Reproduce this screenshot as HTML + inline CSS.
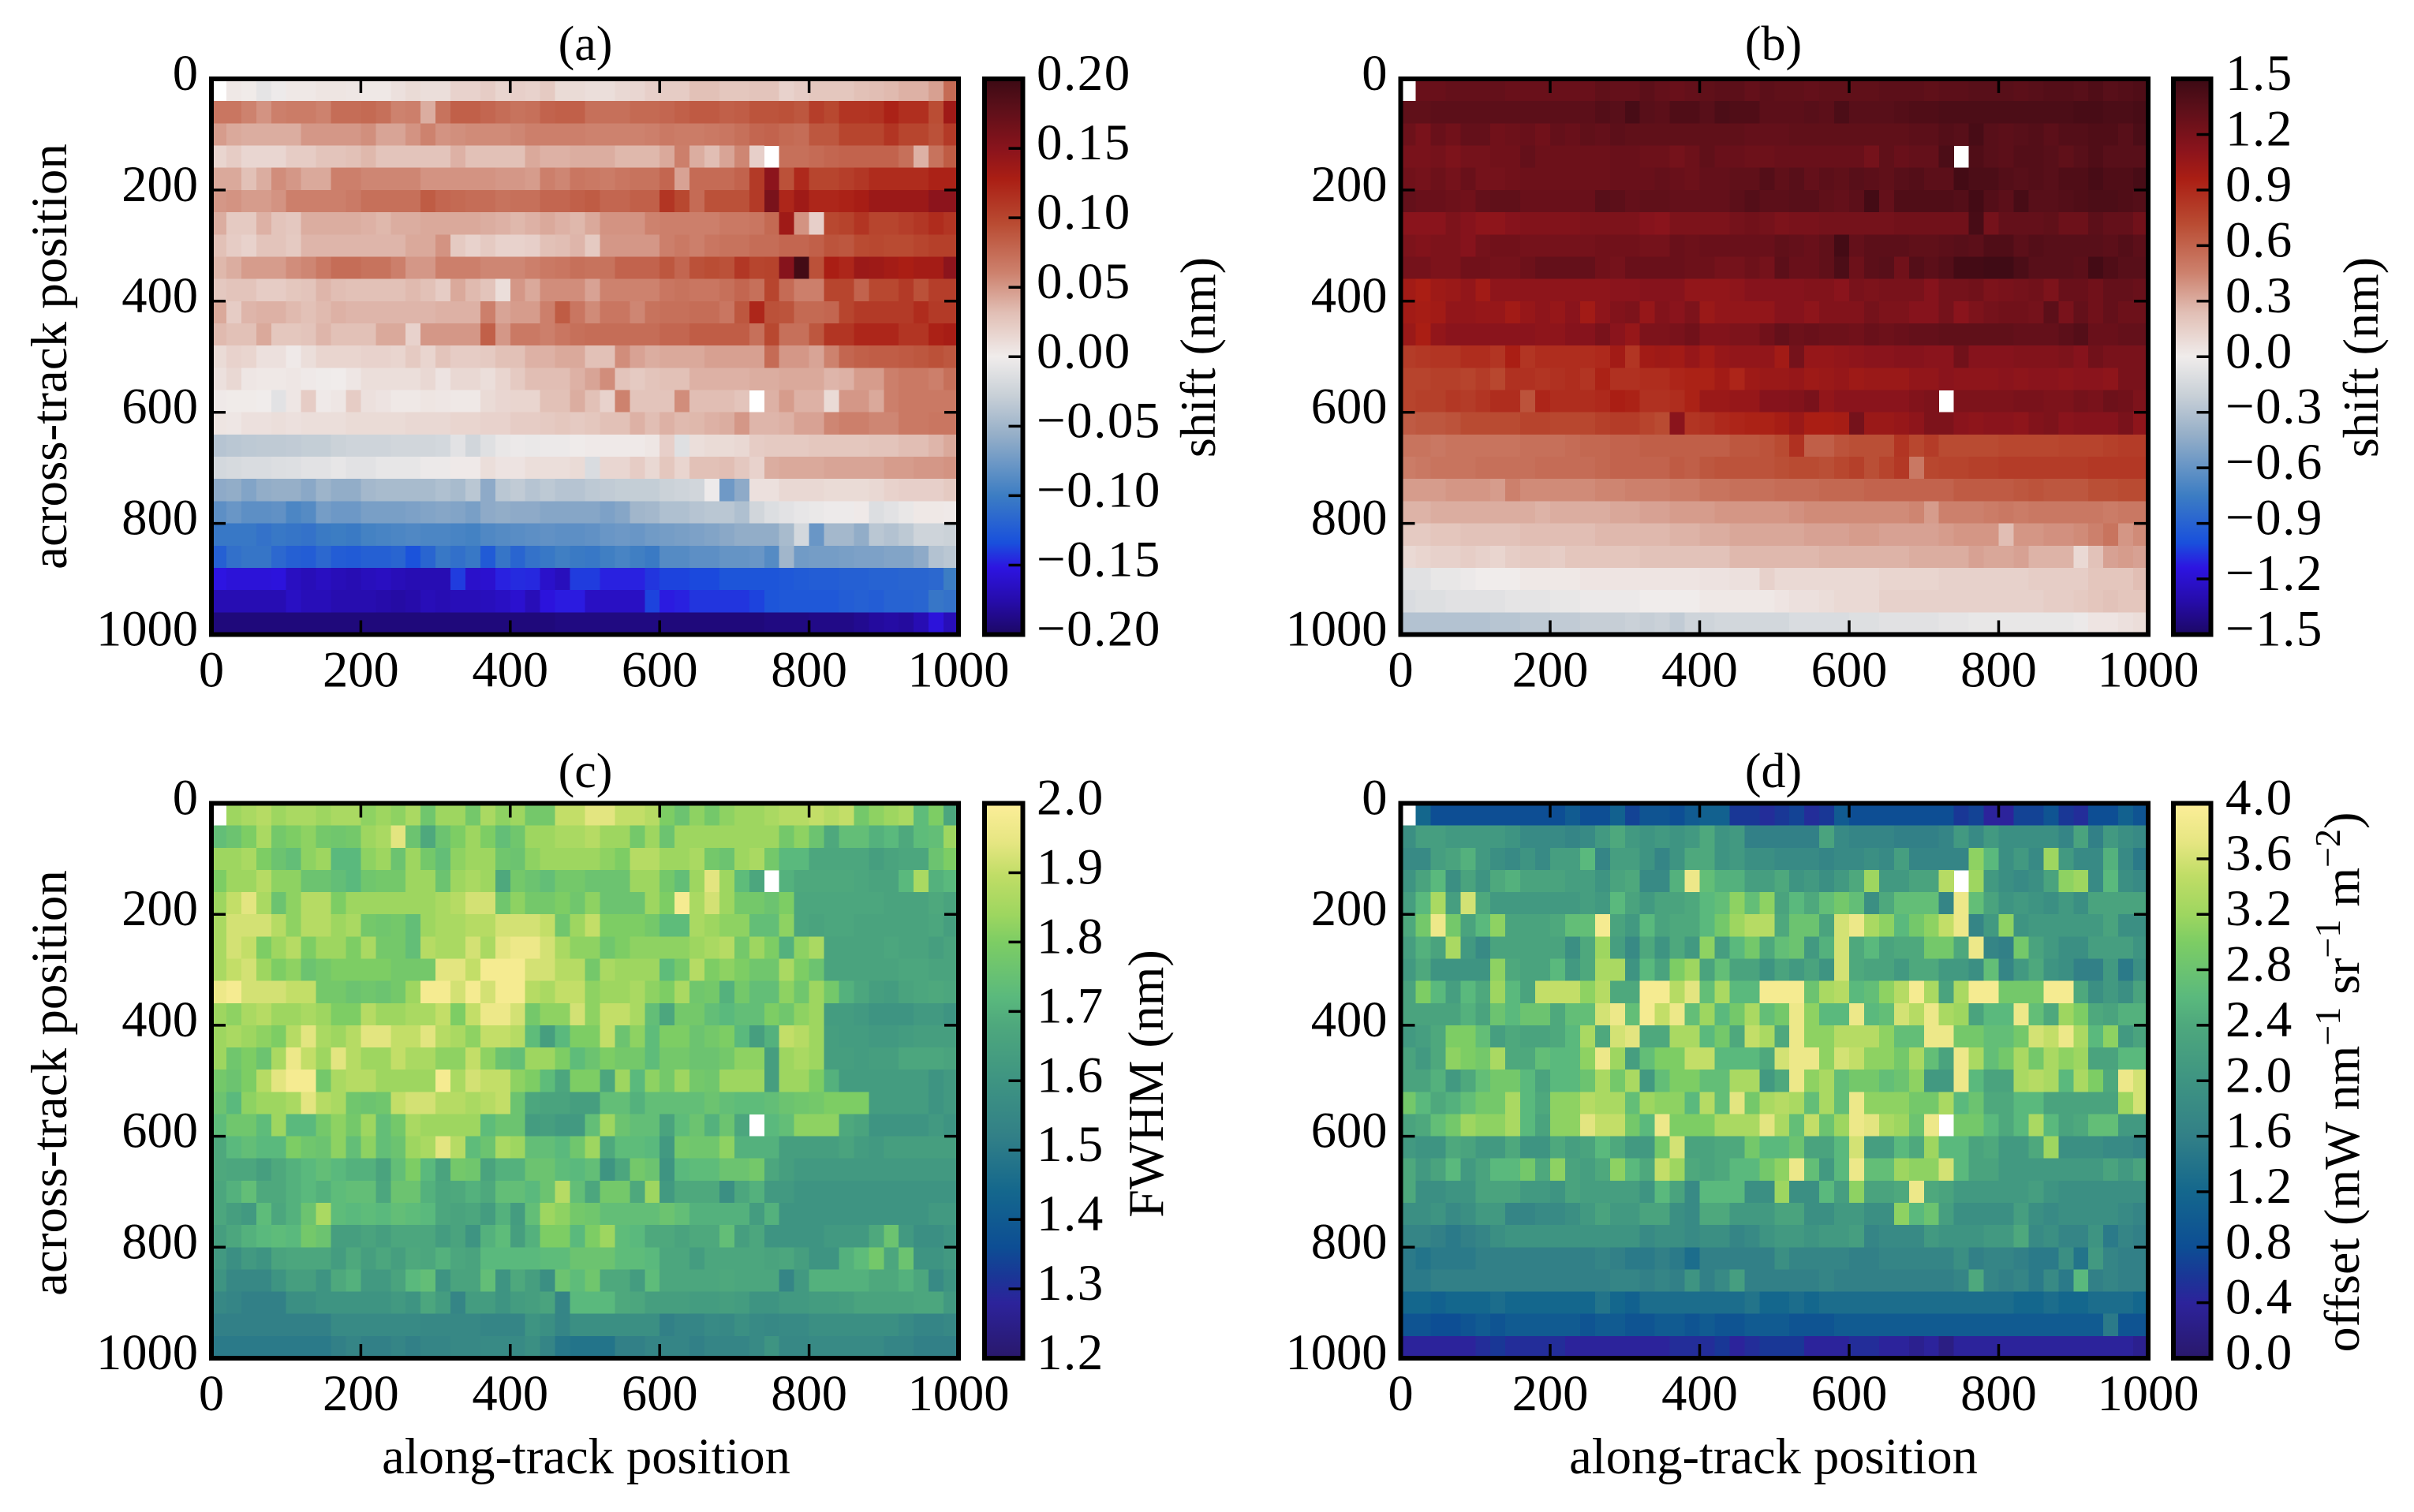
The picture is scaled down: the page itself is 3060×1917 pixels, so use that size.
<!DOCTYPE html>
<html>
<head>
<meta charset="utf-8">
<title>Shift, FWHM and offset maps</title>
<style>
html,body{margin:0;padding:0;background:#fff}
svg{display:block}
text{font-family:"Liberation Serif",serif;fill:#000}
</style>
</head>
<body>
<svg id="figure" xmlns="http://www.w3.org/2000/svg" width="3060" height="1917" viewBox="0 0 3060 1917">
<rect width="3060" height="1917" fill="#fff"/>
<text x="742" y="76" font-size="62" text-anchor="middle">(a)</text>
<text x="2248" y="76" font-size="62" text-anchor="middle">(b)</text>
<text x="742" y="998" font-size="62" text-anchor="middle">(c)</text>
<text x="2248" y="998" font-size="62" text-anchor="middle">(d)</text>
<text transform="translate(84,452) rotate(-90)" font-size="65" text-anchor="middle">across-track position</text>
<text transform="translate(84,1373) rotate(-90)" font-size="65" text-anchor="middle">across-track position</text>
<text x="743" y="1868" font-size="64.5" text-anchor="middle">along-track position</text>
<text x="2248" y="1868" font-size="64.5" text-anchor="middle">along-track position</text>
<text transform="translate(1540,453) rotate(-90)" font-size="64" text-anchor="middle">shift (nm)</text>
<text transform="translate(3014,453) rotate(-90)" font-size="64" text-anchor="middle">shift (nm)</text>
<text transform="translate(1474,1374) rotate(-90)" font-size="64" text-anchor="middle">FWHM (nm)</text>
<text transform="translate(2990,1372) rotate(-90)" font-size="64" text-anchor="middle">offset (mW nm<tspan dy="-24" font-size="46">−1</tspan><tspan dy="24"> sr</tspan><tspan dy="-24" font-size="46">−1</tspan><tspan dy="24"> m</tspan><tspan dy="-24" font-size="46">−2</tspan><tspan dy="24">)</tspan></text>
</svg>
<script>
const xTicks = [0, 200, 400, 600, 800, 1000];
const yTicks = [0, 200, 400, 600, 800, 1000];
const binWidth = 20;
const binHeight = 40;
const ticksA = [-0.20, -0.15, -0.10, -0.05, 0.00, 0.05, 0.10, 0.15, 0.20];
const ticksB = [-1.5, -1.2, -0.9, -0.6, -0.3, 0.0, 0.3, 0.6, 0.9, 1.2, 1.5];
const ticksC = [1.2, 1.3, 1.4, 1.5, 1.6, 1.7, 1.8, 1.9, 2.0];
const ticksD = [0.0, 0.4, 0.8, 1.2, 1.6, 2.0, 2.4, 2.8, 3.2, 3.6, 4.0];

// panel (a) shift, thousandths of a nm
const shiftA = [
[null,3,1,-8,-2,3,3,5,5,4, 3,3,8,12,10,10,18,18,22,16, 20,18,24,12,12,10,10,14,15,20, 22,22,30,30,26,26,28,28,18,22, 26,26,26,30,32,34,38,38,46,75],
[68,68,60,52,62,64,64,60,74,74, 76,72,60,62,40,70,82,82,78,74, 70,72,80,82,82,72,72,72,76,76, 78,82,86,86,82,84,90,90,92,88, 105,98,112,112,114,125,116,116,95,135],
[48,42,40,40,40,40,50,50,50,50, 54,44,44,52,60,52,54,56,56,56, 58,62,62,62,62,60,60,60,60,62, 66,64,64,66,68,72,78,80,76,74, 88,88,100,100,100,112,100,100,92,108],
[16,22,15,15,15,22,22,28,28,30, 35,28,28,28,28,28,38,30,30,30, 30,42,38,38,40,40,40,35,35,35, 42,62,40,32,44,58,20,null,72,72, 75,78,80,80,80,80,72,38,70,85],
[42,42,30,40,55,50,42,42,62,62, 58,58,58,58,52,52,52,52,52,50, 50,48,62,58,68,66,64,68,70,70, 78,45,75,75,75,80,108,148,92,120, 100,100,105,110,118,118,118,118,125,125],
[50,52,48,48,52,62,62,62,62,65, 72,72,72,72,85,78,76,74,74,70, 72,72,78,78,82,85,78,78,82,82, 112,98,75,92,92,92,108,160,122,135, 122,122,125,130,138,138,138,138,148,148],
[40,24,24,38,28,25,40,40,40,40, 38,35,40,40,42,42,42,42,40,38, 35,38,42,38,35,42,52,52,52,60, 62,62,62,62,66,66,68,76,135,52, 20,98,102,112,100,100,105,110,118,112],
[30,22,18,28,28,24,36,36,36,36, 36,36,36,42,42,52,24,18,24,18, 18,20,30,32,36,24,50,50,50,50, 62,66,62,68,70,70,74,74,78,78, 82,90,88,96,98,96,96,100,104,104],
[35,40,48,48,48,55,58,66,74,74, 70,70,62,50,50,62,62,62,58,58, 58,62,66,68,72,70,70,80,80,80, 88,78,92,95,92,110,100,102,152,195, 92,128,122,138,136,132,128,132,132,148],
[25,28,28,22,22,26,28,36,32,30, 30,30,30,34,30,22,42,34,28,10, 50,42,55,55,55,45,60,60,60,60, 68,70,68,68,72,78,72,100,75,62, 62,100,100,80,98,98,108,92,105,105],
[42,22,36,38,38,34,30,34,38,36, 36,36,36,36,36,38,38,38,62,44, 48,48,62,85,68,56,68,68,58,70, 72,72,74,74,68,88,122,92,90,76, 76,78,100,108,108,108,108,118,108,108],
[34,30,30,42,26,26,28,36,30,30, 30,42,42,18,50,50,50,50,82,50, 66,66,62,68,72,74,74,74,74,74, 78,78,84,84,84,84,72,98,72,72, 88,112,112,122,122,122,112,112,126,130],
[12,18,16,8,8,2,10,16,16,16, 18,18,16,24,16,28,22,22,24,30, 30,38,38,42,42,30,30,55,45,40, 42,42,42,46,46,46,46,75,50,50, 44,60,78,82,84,84,86,88,92,88],
[8,14,4,3,3,4,2,-1,0,4, 10,10,10,10,14,6,14,14,10,16, 24,32,32,32,38,44,55,28,24,28, 30,30,38,38,38,38,40,40,42,42, 42,36,38,48,48,62,66,66,62,72],
[2,1,1,0,-10,4,22,2,4,22, 8,6,3,3,5,4,3,3,12,15, 16,16,30,30,40,30,18,60,28,28, 28,55,32,32,32,28,null,38,48,38, 38,12,50,50,42,62,66,66,66,66],
[5,4,8,8,10,8,10,10,10,12, 12,12,12,14,14,14,16,16,18,18, 22,22,24,26,24,26,30,30,38,32, 38,34,35,38,40,50,36,36,38,45, 45,58,62,62,58,58,66,66,68,68],
[-38,-36,-34,-33,-33,-32,-30,-30,-26,-24, -24,-24,-22,-22,-22,-20,-10,-22,-12,-5, -3,-4,-3,-3,-1,2,2,2,2,4, 20,-12,10,12,12,14,22,24,24,24, 26,26,26,26,28,28,32,32,36,42],
[-20,-18,-16,-16,-14,-13,-10,-10,-6,-10, -10,-6,-6,-6,-3,-3,2,2,10,6, 6,10,10,10,12,-16,15,15,22,14, 26,16,30,30,32,25,18,40,42,42, 42,44,44,44,44,48,48,50,50,52],
[-60,-58,-66,-58,-56,-56,-62,-52,-58,-58, -48,-46,-46,-46,-46,-42,-46,-36,-60,-36, -32,-38,-34,-38,-38,-34,-32,-30,-30,-30, -26,-24,-22,-2,-75,-60,8,8,14,14, 14,12,12,12,14,18,20,20,20,24],
[-84,-78,-84,-84,-82,-92,-88,-72,-76,-76, -70,-70,-70,-68,-66,-64,-66,-70,-60,-58, -60,-60,-64,-64,-64,-64,-68,-64,-50,-48, -42,-42,-38,-36,-36,-42,-22,-14,-10,-6, -4,-2,-2,2,-14,-10,-5,3,3,2],
[-104,-104,-104,-108,-104,-106,-108,-102,-100,-102, -96,-94,-92,-90,-92,-92,-94,-96,-90,-88, -86,-84,-82,-84,-84,-82,-78,-76,-78,-74, -72,-70,-68,-66,-62,-58,-58,-58,-46,-20, -78,-48,-48,-58,-36,-40,-34,-24,-24,-26],
[-122,-110,-106,-106,-116,-122,-124,-116,-124,-126, -122,-122,-118,-132,-118,-104,-110,-104,-126,-106, -118,-108,-104,-98,-102,-104,-98,-94,-98,-102, -88,-88,-84,-84,-80,-80,-78,-88,-50,-74, -72,-72,-70,-68,-68,-66,-66,-60,-40,-36],
[-152,-156,-156,-156,-154,-166,-170,-166,-170,-172, -168,-166,-170,-172,-172,-172,-140,-162,-160,-148, -145,-146,-162,-168,-140,-140,-148,-148,-148,-142, -138,-138,-136,-136,-130,-130,-130,-130,-128,-126, -124,-124,-122,-122,-120,-120,-118,-118,-116,-100],
[-172,-172,-172,-172,-172,-165,-170,-170,-174,-174, -174,-176,-178,-176,-170,-172,-170,-170,-168,-165, -160,-170,-154,-150,-150,-165,-165,-165,-165,-138, -150,-148,-142,-142,-142,-142,-138,-130,-128,-128, -128,-128,-124,-122,-124,-120,-120,-118,-105,-108],
[-192,-192,-192,-192,-192,-192,-192,-192,-192,-192, -192,-192,-192,-192,-192,-192,-192,-192,-192,-192, -192,-192,-192,-190,-190,-190,-190,-190,-190,-190, -192,-192,-192,-192,-192,-192,-192,-190,-190,-190, -188,-188,-188,-185,-180,-178,-180,-172,-155,-170]
];

// panel (b) shift, hundredths of a nm
const shiftB = [
[null,128,128,130,130,130,130,128,128,128, 128,128,128,132,130,130,134,130,128,130, 132,134,134,130,134,132,132,130,132,132, 132,132,134,134,134,132,134,134,136,136, 136,134,136,138,138,136,140,136,138,140],
[132,132,134,134,134,134,134,134,134,134, 134,134,134,138,136,144,136,134,140,140, 136,142,140,140,134,134,134,136,134,142, 136,136,136,138,140,140,142,142,142,142, 142,142,142,142,142,144,144,142,142,144],
[126,120,128,124,130,130,124,126,128,124, 130,128,132,130,134,132,132,132,132,132, 132,132,132,130,130,130,132,132,132,132, 132,132,132,132,134,134,138,136,144,136, 134,136,138,134,138,138,140,140,136,142],
[120,120,122,118,122,122,124,124,130,126, 126,126,126,126,128,128,126,126,122,126, 132,128,128,126,126,128,128,128,128,128, 128,122,132,128,130,130,142,null,140,136, 134,138,138,136,132,136,140,136,136,136],
[124,122,126,122,128,122,122,124,126,126, 126,126,126,126,128,128,128,130,128,126, 130,130,132,132,138,132,136,130,134,132, 136,134,132,136,138,134,134,146,142,142, 138,136,138,136,140,140,144,140,140,144],
[130,128,128,126,124,130,132,132,128,128, 128,128,128,136,134,130,132,132,130,130, 130,130,134,138,134,134,136,136,132,130, 134,146,130,140,140,140,140,138,146,138, 134,144,136,136,138,140,142,142,140,138],
[112,112,112,118,114,110,110,114,116,116, 116,116,118,118,118,118,114,112,118,118, 118,118,122,124,122,118,120,120,122,122, 122,122,122,124,124,124,124,124,144,122, 130,130,130,132,126,126,134,130,130,124],
[118,116,118,118,114,122,124,124,122,122, 122,122,122,124,124,124,122,122,128,126, 128,128,128,128,128,132,130,128,132,146, 130,134,134,134,132,132,134,136,134,140, 140,134,138,136,136,136,136,134,138,134],
[122,122,118,118,124,124,122,122,126,130, 130,130,130,124,122,128,128,128,128,126, 126,122,122,126,122,134,128,128,132,142, 126,134,136,124,138,134,138,146,146,148, 148,142,136,136,136,134,146,140,136,136],
[100,96,102,104,108,100,110,110,110,110, 110,110,110,110,112,112,114,114,114,108, 108,108,110,114,114,114,114,116,116,112, 120,118,120,120,120,114,122,122,124,118, 120,122,124,118,128,128,124,130,130,128],
[100,98,100,108,108,106,106,100,106,110, 106,112,100,110,116,118,106,116,112,118, 104,108,108,108,108,114,114,110,116,116, 116,122,118,118,114,114,122,112,118,122, 124,124,122,134,120,130,124,130,126,126],
[104,96,108,112,112,112,112,112,112,110, 110,114,114,120,112,106,118,118,120,124, 116,116,118,118,124,130,126,128,126,126, 124,128,126,128,130,130,132,132,132,132, 132,130,130,130,134,138,128,128,130,130],
[80,82,84,84,88,88,84,96,84,88, 88,88,88,90,100,84,100,102,100,106, 100,106,108,108,108,100,122,106,106,108, 110,112,112,114,114,112,112,124,114,114, 114,116,116,116,118,114,124,120,120,120],
[76,76,78,78,76,80,74,86,86,84, 86,88,84,94,86,86,88,88,92,94, 94,100,92,102,104,104,106,102,104,106, 102,104,104,104,108,108,112,110,110,110, 112,110,112,112,110,112,112,110,120,120],
[76,78,78,82,80,84,88,88,68,92, 88,88,88,90,96,94,86,86,88,94, 104,104,106,106,114,114,116,120,108,112, 112,112,112,112,116,118,null,118,118,118, 118,120,120,118,118,122,120,126,124,118],
[64,66,66,68,72,72,72,72,76,76, 74,74,74,78,80,80,76,72,112,84, 86,90,92,94,94,98,104,96,96,98, 122,104,104,106,110,118,118,112,110,112, 112,110,116,118,112,114,114,114,120,110],
[52,52,50,52,52,52,52,52,54,54, 54,56,58,58,60,60,62,62,62,62, 62,62,66,66,68,72,86,62,62,68, 70,70,70,84,74,80,72,72,72,72, 74,74,74,74,76,76,76,78,80,80],
[48,50,52,52,52,54,54,54,54,56, 56,56,56,58,60,60,60,60,64,62, 66,68,68,68,68,70,72,72,70,74, 78,70,76,82,50,74,76,76,78,78, 80,80,80,80,80,80,82,82,82,82],
[36,36,36,38,38,38,36,46,42,42, 42,42,42,44,44,46,46,46,48,48, 52,52,54,54,54,56,56,56,58,58, 58,60,60,60,60,60,60,64,64,64, 64,66,68,66,66,66,70,70,72,72],
[28,28,30,30,30,30,30,30,30,28, 30,30,30,30,32,32,34,34,36,36, 36,38,38,38,38,38,40,42,42,42, 42,42,42,42,44,36,46,46,46,48, 50,48,50,50,50,50,50,48,50,50],
[18,18,20,20,22,22,22,22,24,24, 24,24,24,26,26,26,26,26,28,28, 30,30,32,32,32,32,32,34,34,34, 36,36,34,34,34,34,36,38,38,38, 24,38,38,40,40,42,46,52,38,42],
[10,12,14,14,16,14,12,16,18,18, 16,20,20,20,20,20,22,22,22,22, 22,22,26,26,26,26,26,26,28,28, 28,28,28,28,30,30,30,30,34,32, 32,34,28,28,28,10,22,34,36,34],
[-8,-8,-4,-4,-2,0,0,0,2,2, 2,2,4,4,4,4,4,4,4,4, 5,5,6,6,14,10,10,10,10,10, 10,10,12,12,12,12,14,14,14,14, 14,14,16,16,16,16,20,20,20,24],
[-12,-10,-10,-8,-8,-8,-8,-6,-6,-6, -4,-4,-2,-2,-2,-2,0,0,0,0, 2,2,2,2,2,4,6,6,8,10, 10,10,14,14,14,14,14,14,14,14, 14,14,14,16,16,18,20,22,20,20],
[-30,-30,-30,-30,-30,-30,-28,-28,-26,-26, -24,-24,-22,-22,-22,-20,-22,-20,-24,-18, -18,-16,-16,-16,-16,-16,-12,-12,-12,-12, -10,-10,-8,-8,-8,-8,-6,-6,-4,-4, -4,-4,-4,-4,-4,-2,4,4,6,8]
];

// panel (c) FWHM, hundredths of a nm
const fwhmC = [
[null,184,186,188,184,186,186,184,186,186, 182,184,182,186,177,184,184,178,186,182, 184,178,178,190,190,194,194,190,190,188, 180,176,182,178,182,184,184,186,188,188, 190,188,190,178,182,184,186,173,180,167],
[174,176,180,186,178,180,182,178,177,178, 184,186,194,176,168,176,180,184,180,174, 177,184,184,186,186,188,184,184,178,184, 176,184,184,184,184,184,184,184,178,182, 176,168,174,174,170,172,168,173,174,184],
[184,184,186,180,176,174,182,184,172,172, 182,184,176,184,178,174,182,184,184,177, 176,182,184,184,184,184,182,180,188,188, 184,184,186,178,176,184,186,178,172,172, 167,167,167,167,164,166,167,167,176,180],
[180,184,184,188,182,182,176,176,174,172, 177,178,178,184,184,176,184,186,184,168, 178,176,174,178,178,176,176,176,184,184, 178,174,184,194,184,173,167,null,170,168, 168,168,168,167,166,166,172,186,170,172],
[184,190,194,186,176,182,188,188,180,184, 184,184,184,184,184,186,188,192,192,177, 182,178,178,180,177,182,176,176,176,184, 180,198,186,192,184,178,178,176,180,167, 167,167,167,167,167,166,166,166,168,166],
[186,192,192,192,188,182,188,188,184,186, 178,177,178,174,184,186,186,188,188,192, 192,192,190,177,184,190,180,180,180,178, 173,173,186,184,182,182,174,174,182,167, 166,167,167,166,166,166,166,166,167,164],
[186,192,190,180,184,188,180,184,184,180, 186,178,178,174,188,186,186,192,186,194, 196,196,192,186,182,182,177,180,182,182, 182,182,184,186,188,178,184,180,170,182, 186,166,166,166,166,167,166,166,164,166],
[186,190,192,184,180,182,176,178,180,180, 180,180,178,178,178,194,194,190,198,198, 198,192,192,188,188,178,186,184,184,184, 173,178,188,180,182,180,177,177,186,180, 176,166,166,166,166,166,167,167,166,166],
[196,198,192,192,192,190,190,178,178,176, 177,176,178,184,198,198,192,198,192,198, 198,188,186,190,190,182,184,184,186,182, 180,186,177,178,170,178,174,174,182,177, 184,178,170,167,164,163,166,167,168,167],
[184,182,186,188,184,184,186,184,180,180, 188,184,184,186,186,190,180,190,196,196, 192,178,182,182,192,182,190,190,186,174, 167,178,178,174,172,174,174,180,177,182, 184,163,163,162,160,160,160,162,162,160],
[184,186,184,182,180,188,194,186,184,188, 194,194,190,190,194,188,186,182,190,190, 188,173,164,172,180,180,190,176,182,173, 180,180,176,178,180,172,164,170,190,188, 184,164,163,163,162,162,163,164,164,164],
[184,177,180,176,186,196,190,184,194,188, 184,184,190,186,186,182,182,190,182,176, 174,184,184,180,173,176,180,178,178,173, 178,178,176,176,178,182,182,164,184,186, 184,164,164,163,164,164,167,167,167,166],
[178,176,180,188,194,198,198,178,186,188, 188,184,184,184,184,198,186,192,190,190, 182,180,173,167,180,180,167,184,172,182, 178,184,178,177,184,184,184,164,184,184, 180,170,163,163,163,163,163,163,160,162],
[176,172,182,184,184,186,194,188,186,177, 176,177,190,192,192,188,188,186,188,190, 176,167,166,166,164,164,174,174,170,174, 174,174,174,176,174,173,173,174,176,177, 178,180,180,180,163,163,163,163,160,162],
[173,177,177,173,184,172,172,178,182,178, 184,174,178,186,184,184,184,184,173,176, 176,163,164,162,162,174,184,176,174,174, 166,173,176,170,176,167,null,172,174,182, 182,182,168,166,160,160,160,160,162,160],
[168,172,174,172,172,180,177,176,182,174, 182,174,176,184,186,194,188,173,176,186, 184,174,174,172,177,184,168,173,173,172, 162,178,177,177,182,170,170,170,164,164, 164,164,166,163,162,164,164,164,164,164],
[168,167,167,164,168,170,172,174,172,170, 170,166,174,180,172,166,178,177,166,170, 170,176,176,173,172,174,160,167,178,176, 160,172,173,173,176,176,178,167,164,162, 162,162,162,162,162,162,162,162,162,162],
[167,170,174,168,168,170,172,170,173,174, 174,167,176,176,170,167,168,170,168,174, 174,172,176,188,174,167,178,178,168,184, 162,168,168,168,158,167,170,162,162,160, 160,160,160,160,160,160,160,160,160,160],
[167,164,162,173,167,170,176,186,173,172, 173,172,174,173,172,167,166,167,163,170, 163,174,184,182,178,177,174,174,174,174, 176,174,170,170,170,170,163,170,160,160, 160,160,160,160,160,160,160,160,162,162],
[164,167,170,172,173,172,178,176,164,164, 166,164,167,167,167,163,166,160,170,173, 164,170,180,180,172,180,184,173,172,168, 168,166,168,168,174,164,167,160,160,160, 160,162,162,162,168,176,162,158,158,160],
[162,158,162,160,166,167,167,167,163,168, 164,167,164,168,167,170,167,166,172,172, 172,172,173,173,176,176,176,173,173,172, 167,167,163,167,167,167,167,166,167,164, 160,160,170,173,178,167,176,160,160,162],
[160,155,155,155,160,164,164,160,168,170, 162,162,166,172,174,160,166,166,174,160, 168,164,158,176,173,177,168,168,163,173, 167,167,167,167,168,167,167,167,154,162, 170,170,170,170,168,168,170,167,156,160],
[155,154,152,152,152,158,158,160,160,160, 160,160,162,160,167,163,154,163,163,160, 163,164,166,154,172,172,172,168,167,164, 164,164,163,163,164,163,160,160,162,162, 163,163,164,166,166,166,166,167,167,162],
[152,152,152,152,152,152,152,152,156,156, 156,156,156,156,155,155,155,155,154,154, 154,160,158,154,158,158,158,158,158,158, 152,154,154,156,155,158,156,155,156,156, 158,158,158,158,158,158,156,154,154,155],
[150,150,150,150,150,150,150,150,152,154, 152,152,154,152,154,154,155,155,156,156, 156,158,154,149,148,148,148,152,152,154, 154,154,152,154,154,154,156,160,155,155, 156,156,156,156,156,154,154,152,152,152]
];

// panel (d) offset, tenths of a mW nm-1 sr-1 m-2
const offsetD = [
[null,12,8,8,8,8,8,8,8,8, 8,10,8,8,11,7,9,9,8,10, 11,11,6,6,5,6,7,5,6,10, 8,8,8,8,8,8,8,6,7,4, 4,7,7,9,6,5,8,8,11,9],
[19,22,22,21,21,21,21,20,18,18, 18,17,18,21,24,21,20,21,20,21, 24,20,21,16,16,16,16,16,23,18, 17,17,17,16,16,16,17,21,18,21, 19,19,19,19,17,23,16,21,19,18],
[18,18,22,23,25,21,19,18,20,18, 22,22,26,17,22,22,20,17,20,24, 24,20,21,19,19,18,18,18,17,18, 18,19,18,22,17,17,17,17,31,26, 19,21,18,32,21,18,18,25,18,15],
[20,23,26,19,23,20,24,25,23,23, 23,22,22,20,23,24,18,18,25,38, 27,25,25,22,22,24,20,21,19,21, 24,32,21,21,23,23,34,null,32,21, 19,18,19,23,31,32,18,26,19,18],
[22,26,33,22,36,24,21,21,21,21, 21,21,22,21,26,23,21,23,23,24, 26,27,31,27,31,23,26,24,27,29, 27,19,24,27,27,27,17,38,27,23, 20,21,20,19,21,19,23,23,23,23],
[24,29,38,29,23,26,31,23,23,23, 24,27,27,39,23,21,26,23,24,24, 26,29,32,34,34,24,28,28,23,36, 38,33,31,26,29,31,35,38,17,21, 31,20,21,21,21,21,21,23,19,19],
[22,25,23,33,21,18,23,23,23,23, 23,19,24,32,22,18,24,20,24,21, 31,22,26,29,24,27,28,21,25,36, 24,26,23,24,24,29,29,24,38,17, 16,29,23,21,19,19,22,22,22,20],
[21,24,20,20,20,20,31,24,23,23, 26,21,24,33,33,20,26,23,30,32, 23,27,23,23,20,23,21,23,20,36, 24,23,23,21,24,24,21,21,19,27, 17,21,24,20,19,16,16,21,15,19],
[23,30,26,22,26,24,32,26,23,35, 35,35,31,34,24,24,39,39,34,37, 27,33,26,26,39,39,39,28,33,34, 26,27,31,34,39,33,23,33,39,39, 29,29,29,39,39,24,19,21,19,23],
[23,23,23,23,25,23,28,26,28,28, 24,27,27,36,38,27,39,35,38,27, 32,26,29,33,27,29,38,31,26,26, 38,26,27,36,34,38,33,32,23,26, 26,38,27,24,32,30,24,23,25,25],
[21,22,24,30,30,27,22,24,23,23, 24,26,33,24,36,37,24,24,33,33, 26,29,24,35,33,24,38,31,31,34, 34,34,31,27,27,38,38,29,29,27, 27,29,36,35,38,33,26,31,21,23],
[23,21,24,31,30,29,33,24,24,27, 26,26,31,38,32,22,27,30,30,35, 35,26,26,26,24,36,38,38,31,36, 35,31,31,29,33,27,23,38,33,27, 29,33,29,33,31,32,23,23,26,26],
[23,23,25,21,24,27,29,29,26,23, 26,26,28,33,29,33,21,27,30,30, 27,27,33,33,21,24,38,31,33,27, 29,29,27,28,31,21,21,38,26,23, 23,33,34,33,26,33,30,24,38,36],
[29,26,24,25,27,29,29,33,26,24, 31,31,34,33,33,27,32,31,31,26, 34,27,37,29,33,34,33,27,33,27, 38,31,31,31,29,29,33,26,28,24, 24,26,26,23,23,23,23,23,32,36],
[23,24,27,29,32,31,31,33,26,23, 31,31,37,35,35,29,26,38,30,30, 30,33,33,33,37,33,27,35,28,32, 38,37,33,32,28,38,null,29,29,26, 24,26,33,26,23,24,27,27,21,21],
[21,20,20,24,23,21,21,24,20,20, 24,22,23,26,24,21,21,29,36,23, 23,24,24,29,26,26,28,23,23,26, 36,22,22,26,24,32,26,26,23,24, 21,21,24,32,19,19,19,18,18,17],
[24,21,23,26,21,23,26,26,29,24, 31,23,22,24,31,26,24,35,32,24, 23,24,26,26,29,31,38,27,21,26, 38,27,27,32,31,31,36,26,23,23, 21,21,21,21,21,21,21,23,21,23],
[24,19,19,20,20,23,23,23,21,21, 20,23,22,22,22,22,20,26,23,18, 26,26,26,19,19,32,19,19,26,22, 31,23,23,24,38,24,23,21,21,21, 21,21,22,20,19,19,19,19,19,19],
[19,19,20,18,19,21,21,17,17,18, 18,19,21,23,21,21,23,23,19,18, 24,24,21,21,21,23,23,19,19,21, 21,19,19,31,26,28,22,19,19,19, 19,22,19,18,19,19,19,19,18,17],
[17,17,16,15,16,17,19,20,20,20, 20,20,20,20,20,20,18,19,19,18, 19,19,17,18,20,21,21,20,21,21, 22,17,18,18,18,21,20,20,20,21, 21,24,18,19,17,17,20,15,17,16],
[15,14,15,15,15,16,16,16,16,16, 16,16,16,17,16,15,15,16,15,13, 16,16,16,16,16,19,17,17,17,17, 16,16,17,17,17,17,17,19,16,17, 17,16,15,15,19,14,21,17,16,16],
[15,15,16,16,16,16,16,16,16,16, 16,16,16,16,17,17,16,17,16,20, 16,18,22,16,16,16,16,16,17,16, 16,16,16,16,16,16,16,17,24,17, 16,17,15,18,15,26,16,17,16,16],
[12,12,11,12,12,12,13,12,12,12, 12,12,12,14,12,11,13,13,13,13, 13,13,13,14,12,12,13,12,13,13, 13,13,13,13,13,13,13,13,13,13, 13,12,12,13,12,12,13,13,13,12],
[9,9,8,8,9,10,9,10,10,10, 10,10,9,10,10,9,9,10,10,9, 10,9,9,10,10,10,9,9,9,10, 10,10,10,10,10,10,10,10,10,10, 10,10,10,10,10,10,10,15,9,9],
[4,4,4,4,4,5,6,5,5,5, 5,4,4,4,4,4,4,4,5,5, 5,6,4,5,6,6,6,4,4,4, 5,5,4,4,3,4,2,4,4,4, 4,4,4,4,4,4,4,4,4,3]
];

const NS = 'http://www.w3.org/2000/svg';
const svg = document.getElementById('figure');
const balanceStops = [[0,28,8,100],[.06,38,12,170],[.12,45,20,225],[.165,25,80,220],[.25,60,125,195],[.36,150,175,200],[.43,200,208,215],[.5,240,236,235],[.58,225,190,180],[.65,205,130,110],[.74,185,75,50],[.82,170,30,20],[.87,140,20,28],[.95,90,15,25],[1,60,10,20]];
const halineStops = [[0,41,24,107],[.1,44,35,155],[.15,25,55,150],[.2,13,78,148],[.3,20,103,141],[.4,50,128,135],[.5,62,148,130],[.6,78,168,125],[.65,90,185,125],[.75,125,205,100],[.8,158,214,96],[.87,192,221,102],[.93,230,230,130],[1,253,238,153]];

function colormap(stops, t) {
  t = Math.max(0, Math.min(1, t));
  for (let i = 1; i < stops.length; i++) {
    if (t <= stops[i][0]) {
      const a = stops[i - 1], b = stops[i], f = (t - a[0]) / (b[0] - a[0]);
      return 'rgb(' + [1, 2, 3].map(k => Math.round(a[k] + (b[k] - a[k]) * f)).join(',') + ')';
    }
  }
  return 'rgb(' + stops[stops.length - 1].slice(1).join(',') + ')';
}
function line(parent, x1, y1, x2, y2, w) {
  const el = document.createElementNS(NS, 'line');
  el.setAttribute('x1', x1); el.setAttribute('y1', y1);
  el.setAttribute('x2', x2); el.setAttribute('y2', y2);
  el.setAttribute('stroke', '#000'); el.setAttribute('stroke-width', w);
  parent.appendChild(el);
  return el;
}
function label(parent, x, y, str, anchor, size, spacing) {
  const el = document.createElementNS(NS, 'text');
  el.setAttribute('x', x); el.setAttribute('y', y);
  el.setAttribute('font-size', size);
  el.setAttribute('text-anchor', anchor);
  if (spacing) el.setAttribute('letter-spacing', spacing);
  el.textContent = str;
  parent.appendChild(el);
  return el;
}
function drawPanel(id, box, matrix, unit, vmin, vmax, stops, ticks, digits) {
  const g = document.createElementNS(NS, 'g');
  
  
  svg.appendChild(g);
  const xScale = v => box.x0 + (box.x1 - box.x0) * v / 1000;
  const yScale = v => box.y0 + (box.y1 - box.y0) * v / 1000;
  const cells = document.createElementNS(NS, 'g');
  cells.setAttribute('shape-rendering', 'crispEdges');
  
  
  g.appendChild(cells);
  matrix.forEach((row, r) => row.forEach((val, c) => {
    if (val === null) return;
    const rect = document.createElementNS(NS, 'rect');
    
    
    const xa = xScale(c * binWidth), xb = xScale((c + 1) * binWidth);
    const ya = yScale(r * binHeight), yb = yScale((r + 1) * binHeight);
    rect.setAttribute('x', xa.toFixed(2));
    rect.setAttribute('y', ya.toFixed(2));
    rect.setAttribute('width', (xb - xa + 0.4).toFixed(2));
    rect.setAttribute('height', (yb - ya + 0.4).toFixed(2));
    rect.setAttribute('fill', colormap(stops, (val * unit - vmin) / (vmax - vmin)));
    cells.appendChild(rect);
  }));
  const axes = document.createElementNS(NS, 'g');
  
  
  g.appendChild(axes);
  xTicks.forEach(t => {
    const x = xScale(t);
    line(axes, x, box.y0, x, box.y0 + 18, 3.5);
    line(axes, x, box.y1, x, box.y1 - 18, 3.5);
    const el = label(axes, x, box.y1 + 66, String(t), 'middle', 64.5);
    
    
  });
  yTicks.forEach(t => {
    const y = yScale(t);
    line(axes, box.x0, y, box.x0 + 18, y, 3.5);
    line(axes, box.x1, y, box.x1 - 18, y, 3.5);
    const el = label(axes, box.x0 - 17, y + 14, String(t), 'end', 64.5);
    
    
  });
  const frame = document.createElementNS(NS, 'rect');
  
  
  frame.setAttribute('x', box.x0); frame.setAttribute('y', box.y0);
  frame.setAttribute('width', box.x1 - box.x0); frame.setAttribute('height', box.y1 - box.y0);
  frame.setAttribute('fill', 'none'); frame.setAttribute('stroke', '#000'); frame.setAttribute('stroke-width', 6);
  axes.appendChild(frame);

  const cb = document.createElementNS(NS, 'g');
  
  
  g.appendChild(cb);
  const grad = document.createElementNS(NS, 'linearGradient');
  grad.setAttribute('id', 'grad-' + id);
  grad.setAttribute('x1', '0'); grad.setAttribute('y1', '1');
  grad.setAttribute('x2', '0'); grad.setAttribute('y2', '0');
  stops.forEach(s => {
    const st = document.createElementNS(NS, 'stop');
    st.setAttribute('offset', s[0]);
    st.setAttribute('stop-color', 'rgb(' + s.slice(1).join(',') + ')');
    grad.appendChild(st);
  });
  cb.appendChild(grad);
  const bar = document.createElementNS(NS, 'rect');
  
  
  bar.setAttribute('x', box.cx0); bar.setAttribute('y', box.y0);
  bar.setAttribute('width', box.cx1 - box.cx0); bar.setAttribute('height', box.y1 - box.y0);
  bar.setAttribute('fill', 'url(#grad-' + id + ')');
  bar.setAttribute('stroke', '#000'); bar.setAttribute('stroke-width', 6);
  cb.appendChild(bar);
  const cScale = v => box.y1 - (box.y1 - box.y0) * (v - vmin) / (vmax - vmin);
  ticks.forEach(t => {
    const y = cScale(t);
    if (t !== vmin && t !== vmax) line(cb, box.cx1 - 18, y, box.cx1, y, 3.5);
    const neg = t < 0;
    const str = (neg ? '\u2212' : '') + Math.abs(t).toFixed(digits);
    const el = label(cb, box.cl, y + 14, str, 'start', 65, 1.5);
    
    
  });
}
const boxA = {x0:268, x1:1215, y0:100, y1:804.5, cx0:1248, cx1:1296.5, cl:1314};
const boxB = {x0:1775.5, x1:2723, y0:100, y1:804.5, cx0:2755, cx1:2802.5, cl:2821};
const boxC = {x0:268, x1:1215, y0:1018.5, y1:1722, cx0:1248, cx1:1296.5, cl:1314};
const boxD = {x0:1775.5, x1:2723, y0:1018.5, y1:1722, cx0:2755, cx1:2802.5, cl:2821};
drawPanel('a', boxA, shiftA, 0.001, -0.2, 0.2, balanceStops, ticksA, 2);
drawPanel('b', boxB, shiftB, 0.01, -1.5, 1.5, balanceStops, ticksB, 1);
drawPanel('c', boxC, fwhmC, 0.01, 1.2, 2.0, halineStops, ticksC, 1);
drawPanel('d', boxD, offsetD, 0.1, 0, 4, halineStops, ticksD, 1);
</script>
</body>
</html>
